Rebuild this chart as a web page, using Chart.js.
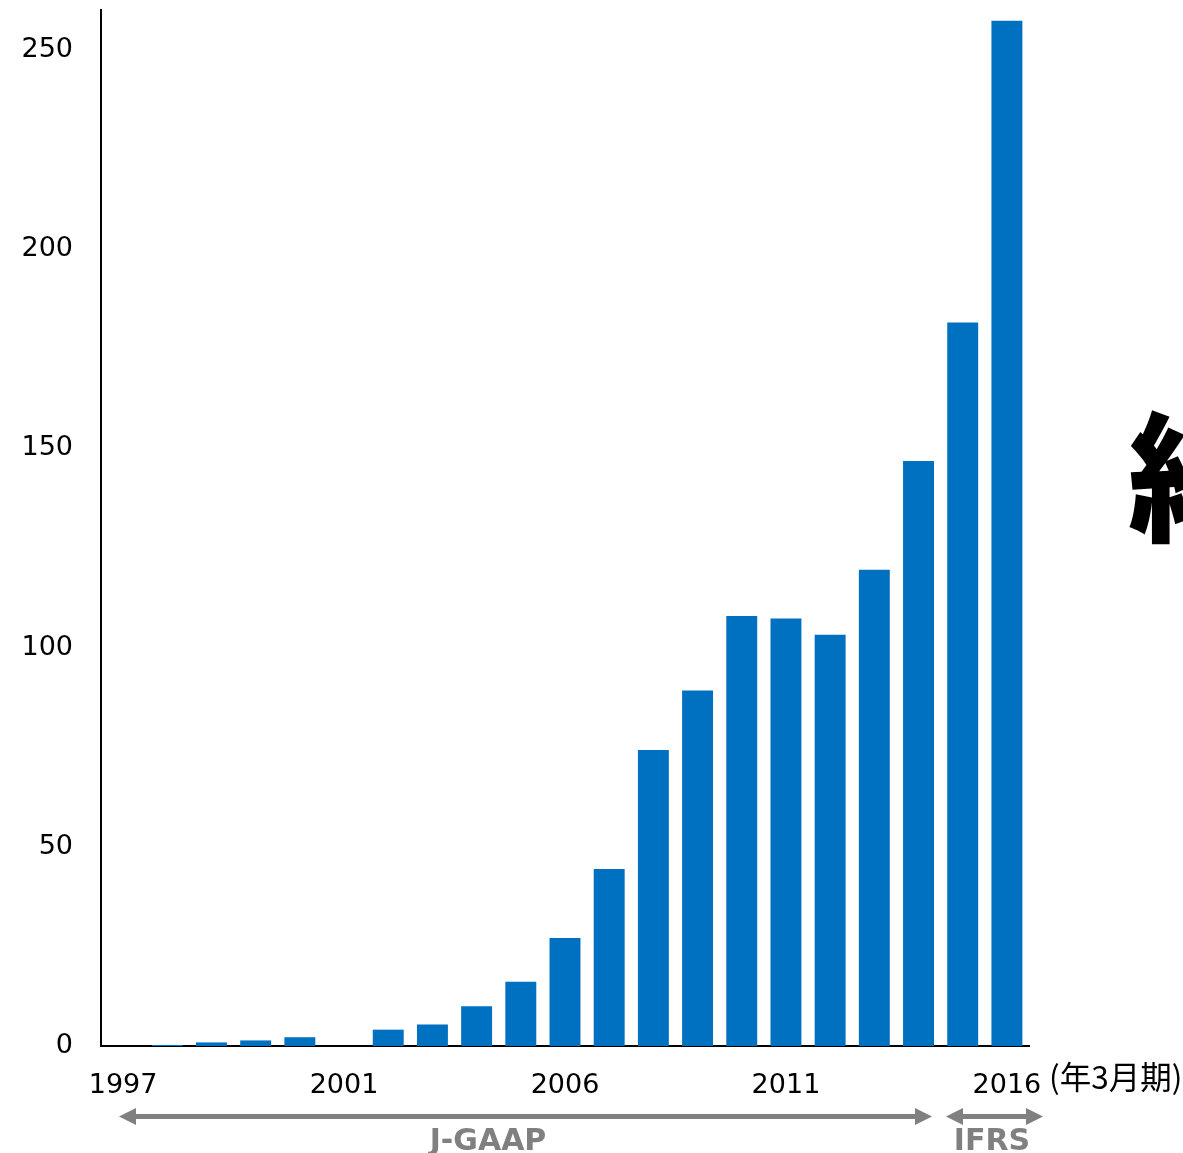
<!DOCTYPE html>
<html>
<head>
<meta charset="utf-8">
<script src="https://cdn.jsdelivr.net/npm/chart.js@4/dist/chart.umd.min.js"></script>
<style>
  html, body { margin: 0; padding: 0; background: #ffffff; }
  #wrap { position: relative; width: 1183px; height: 1153px; }
  canvas { display: block; }
</style>
</head>
<body>
<div id="wrap"><canvas id="c" width="1183" height="1153"></canvas></div>
<script>
// Fiscal years (ending March); only every fifth year is labelled
const years = [1997, 1998, 1999, 2000, 2001, 2002, 2003, 2004, 2005, 2006,
               2007, 2008, 2009, 2010, 2011, 2012, 2013, 2014, 2015, 2016, 2017];
const tickLabels = ['1997', '', '', '', '', '2001', '', '', '', '', '2006',
                    '', '', '', '', '2011', '', '', '', '', '2016'];
const values = [0, 0.25, 0.9, 1.4, 2.2, 0, 4.1, 5.4, 10.0, 16.1, 27.1,
                44.4, 74.3, 89.2, 107.9, 107.3, 103.2, 119.5, 146.8, 181.6, 257.3];
const yTicks = [0, 50, 100, 150, 200, 250];
const unitLabel = '(年3月期)';
const periods = [
  { name: 'J-GAAP', from: 119, to: 932, labelX: 488 },
  { name: 'IFRS', from: 946, to: 1043, labelX: 992 }
];
const sideTitle = '純';

const BAR = '#0070C0';
const GREY = '#808080';
const FONT = "'DejaVu Sans', Verdana, sans-serif";

function arrow(ctx, x1, x2, y) {
  const head = 17, half = 8.5, shaft = 2.6;
  ctx.beginPath();
  ctx.moveTo(x1, y);
  ctx.lineTo(x1 + head, y - half);
  ctx.lineTo(x1 + head, y - shaft);
  ctx.lineTo(x2 - head, y - shaft);
  ctx.lineTo(x2 - head, y - half);
  ctx.lineTo(x2, y);
  ctx.lineTo(x2 - head, y + half);
  ctx.lineTo(x2 - head, y + shaft);
  ctx.lineTo(x1 + head, y + shaft);
  ctx.lineTo(x1 + head, y + half);
  ctx.closePath();
  ctx.fill();
}

// Annotations outside the plot: unit label, accounting-standard arrows, side title
const extras = {
  id: 'extras',
  afterDraw(chart) {
    const ctx = chart.ctx;
    ctx.save();
    // unit next to the last year label
    ctx.fillStyle = '#000';
    ctx.font = "31.5px 'Noto Sans CJK JP', sans-serif";
    ctx.textAlign = 'left';
    ctx.textBaseline = 'middle';
    ctx.fillText(unitLabel, 1049, 1077);

    // period arrows and names
    ctx.fillStyle = GREY;
    periods.forEach(p => arrow(ctx, p.from, p.to, 1116.5));
    ctx.font = "bold 30px " + FONT;
    ctx.textAlign = 'center';
    ctx.textBaseline = 'middle';
    periods.forEach(p => ctx.fillText(p.name, p.labelX, 1142));

    // large title character partly off the right edge
    ctx.fillStyle = '#000';
    ctx.font = "900 140px 'Noto Sans CJK JP', sans-serif";
    ctx.textAlign = 'left';
    ctx.textBaseline = 'middle';
    ctx.fillText(sideTitle, 1128, 477);
    ctx.restore();
  }
};

new Chart(document.getElementById('c'), {
  type: 'bar',
  data: {
    labels: tickLabels,
    datasets: [{
      data: values,
      backgroundColor: BAR,
      borderWidth: 0,
      barPercentage: 0.7,
      categoryPercentage: 1.0
    }]
  },
  options: {
    responsive: false,
    animation: false,
    layout: { padding: { left: 0, right: 154, top: 10, bottom: 0 } },
    plugins: { legend: { display: false }, tooltip: { enabled: false } },
    scales: {
      x: {
        offset: true,
        grid: { display: false },
        border: { display: true, color: '#000', width: 2 },
        ticks: {
          autoSkip: false,
          maxRotation: 0,
          padding: 16,
          color: '#000',
          font: { family: FONT, size: 27 }
        },
        afterFit(scale) {
          scale.height = 107;
          scale.paddingLeft = 0;
          scale.paddingRight = 0;
        }
      },
      y: {
        min: 0,
        max: 260,
        grid: { display: false },
        border: { display: true, color: '#000', width: 2 },
        afterBuildTicks(scale) { scale.ticks = yTicks.map(v => ({ value: v })); },
        ticks: {
          padding: 20,
          color: '#000',
          font: { family: FONT, size: 27 }
        },
        afterFit(scale) {
          scale.width = 101;
          scale.paddingTop = 0;
          scale.paddingBottom = 0;
        }
      }
    }
  },
  plugins: [extras]
});
</script>
</body>
</html>
